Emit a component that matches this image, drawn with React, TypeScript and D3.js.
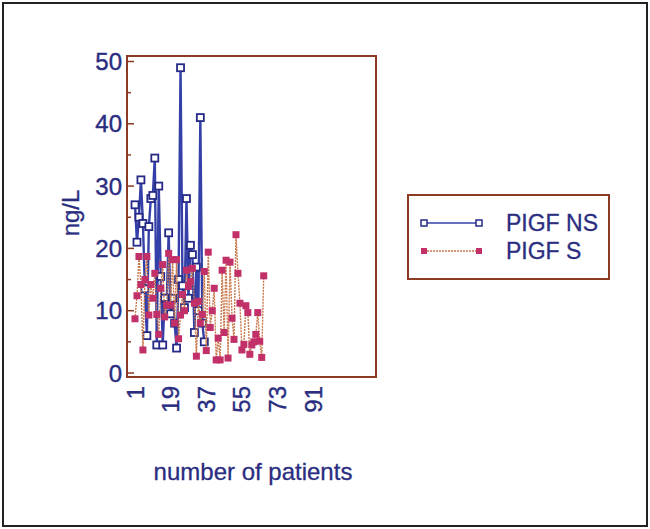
import React from 'react'
import * as d3 from 'd3'

// PlGF values, one per patient
const nsValues = [
  27, 21, 25, 31, 24, 13.5, 6, 23.5, 28, 28.5, 34.5, 4.5, 30, 15.5, 4.5, 12, 11, 22.5,
  9.5, 12, 8, 4, 15, 49, 14, 10.5, 28, 12, 20.5, 19, 6.5, 17, 10, 41, 8, 5
]
const sValues = [
  8.7, 12.4, 18.7, 14.2, 3.7, 15, 18.7, 9.3, 14.2, 12, 16, 9.4, 6.2, 13.6, 17.4, 9, 10.9,
  19.2, 10.9, 18.2, 8, 18.2, 5.5, 9.3, 12.6, 10, 16.5, 13.9, 14.7, 16.8, 11.2, 2.7, 11.5,
  8, 9.4, 16.3, 3.6, 19.4, 7.3, 10, 13.6, 2.1, 5.6, 2.1, 16.5, 6.5, 18.1, 2.4, 17.8, 8.8,
  5.4, 22.2, 16, 11.2, 3.7, 4.6, 10.8, 9.7, 3, 4.5, 5, 6.2, 9.7, 5.1, 2.5, 15.6
]
const yTicks = [0, 10, 20, 30, 40, 50]
const yMinor = [5, 15, 25, 35, 45]
const xTicks = [1, 19, 37, 55, 73, 91]
const legendLabels = ['PIGF NS', 'PIGF S']

const width = 650
const height = 529
const frame = { left: 127, top: 56, right: 376, bottom: 377 }
const textColor = '#2a2d80'
const frameColor = '#8b3a24'
const nsColor = '#3440a8'
const sColor = '#c2306a'
const sLine = '#c8784c'
const font = 'Liberation Sans, Arial, sans-serif'

export default function App() {
  const x = d3.scaleLinear().domain([1, 91]).range([135, 313.2])
  const y = d3.scaleLinear().domain([0, 50]).range([373, 61.5])

  const line = d3
    .line<number>()
    .x((d, i) => x(i + 1))
    .y(d => y(d))

  const ms = 7

  return (
    <svg
      width={width}
      height={height}
      style={{ position: 'absolute', left: 0, top: 0, background: '#fff' }}
    >
      <rect x={3} y={3} width={width - 6} height={height - 6} fill="#fff" stroke="#222" strokeWidth={2} />

      {/* plot frame */}
      <rect
        x={frame.left}
        y={frame.top}
        width={frame.right - frame.left}
        height={frame.bottom - frame.top}
        fill="#fff"
        stroke={frameColor}
        strokeWidth={2}
      />

      {/* y ticks */}
      {yTicks.map(t => (
        <g key={'y' + t}>
          <line x1={frame.left} x2={frame.left + 7} y1={y(t)} y2={y(t)} stroke={frameColor} strokeWidth={1.5} />
          <text
            x={122}
            y={y(t)}
            textAnchor="end"
            dominantBaseline="central"
            fontFamily={font}
            fontSize={24}
            fill={textColor}
            stroke={textColor}
            strokeWidth={0.4}
          >
            {t}
          </text>
        </g>
      ))}
      {yMinor.map(t => (
        <line key={'m' + t} x1={frame.left} x2={frame.left + 4} y1={y(t)} y2={y(t)} stroke={frameColor} strokeWidth={1.5} />
      ))}

      {/* x tick labels */}
      {xTicks.map(t => (
        <text
          key={'x' + t}
          transform={`translate(${x(t)},386) rotate(-90)`}
          textAnchor="end"
          dominantBaseline="central"
          fontFamily={font}
          fontSize={24}
          fill={textColor}
          stroke={textColor}
          strokeWidth={0.4}
        >
          {t}
        </text>
      ))}

      <text
        transform={`translate(70,213) rotate(-90)`}
        textAnchor="middle"
        dominantBaseline="central"
        fontFamily={font}
        fontSize={24}
        fill={textColor}
        stroke={textColor}
        strokeWidth={0.3}
      >
        ng/L
      </text>
      <text
        x={253}
        y={480}
        textAnchor="middle"
        fontFamily={font}
        fontSize={24}
        fill={textColor}
        stroke={textColor}
        strokeWidth={0.3}
      >
        number of patients
      </text>

      {/* NS series */}
      <path d={line(nsValues) || ''} fill="none" stroke={nsColor} strokeWidth={2.4} />
      {nsValues.map((v, i) => (
        <rect
          key={'ns' + i}
          x={x(i + 1) - ms / 2}
          y={y(v) - ms / 2}
          width={ms}
          height={ms}
          fill="#fff"
          stroke="#262a86"
          strokeWidth={1.8}
        />
      ))}

      {/* S series */}
      <path d={line(sValues) || ''} fill="none" stroke={sLine} strokeWidth={1.4} strokeDasharray="2,1" />
      {sValues.map((v, i) => (
        <rect key={'s' + i} x={x(i + 1) - ms / 2} y={y(v) - ms / 2} width={ms} height={ms} fill={sColor} />
      ))}

      {/* legend */}
      <rect x={408} y={195} width={201} height={84} fill="#fff" stroke={frameColor} strokeWidth={2} />
      <line x1={424} x2={479} y1={223} y2={223} stroke={nsColor} strokeWidth={1.5} />
      <rect x={421} y={220} width={6} height={6} fill="#fff" stroke="#262a86" strokeWidth={1.5} />
      <rect x={476} y={220} width={6} height={6} fill="#fff" stroke="#262a86" strokeWidth={1.5} />
      <line x1={424} x2={479} y1={251} y2={251} stroke={sLine} strokeWidth={1.3} strokeDasharray="2,1" />
      <rect x={421} y={248} width={6} height={6} fill={sColor} />
      <rect x={476} y={248} width={6} height={6} fill={sColor} />
      {legendLabels.map((l, i) => (
        <text
          key={l}
          x={506}
          y={223 + i * 28}
          dominantBaseline="central"
          fontFamily={font}
          fontSize={23}
          fill={textColor}
          stroke={textColor}
          strokeWidth={0.3}
        >
          {l}
        </text>
      ))}
    </svg>
  )
}
